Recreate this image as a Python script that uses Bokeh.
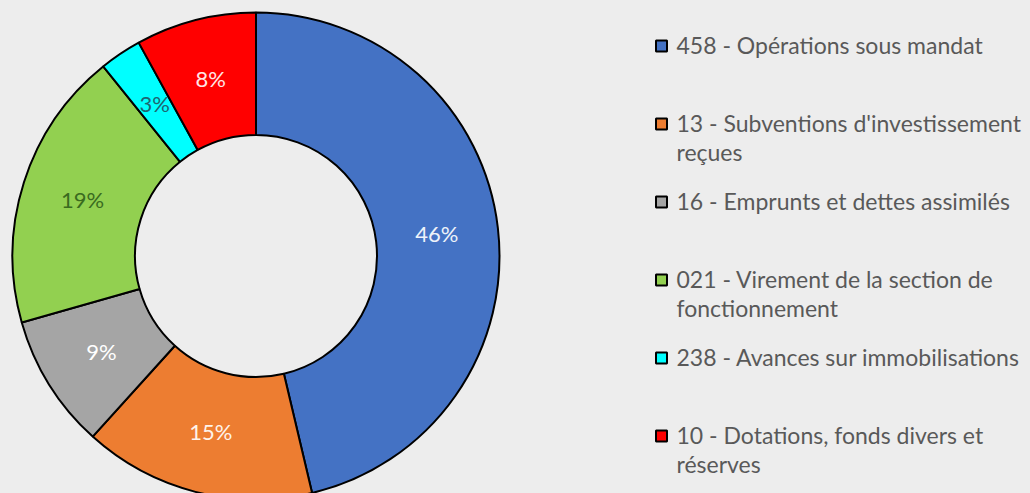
import math
from bokeh.plotting import figure
from bokeh.models import Range1d, ColumnDataSource, GlobalInlineStyleSheet
from bokeh.core.properties import value
from bokeh.embed import file_html
from bokeh.resources import INLINE

# ---- data ----
categories = [
    "458 - Opérations sous mandat",
    "13 - Subventions d'investissement\nreçues",
    "16 - Emprunts et dettes assimilés",
    "021 - Virement de la section de\nfonctionnement",
    "238 - Avances sur immobilisations",
    "10 - Dotations, fonds divers et\nréserves",
]
shares = [46.3, 15.4, 8.9, 18.6, 2.8, 8.0]
pct_labels = ["46%", "15%", "9%", "19%", "3%", "8%"]
colors = ["#4472C4", "#ED7D31", "#A5A5A5", "#92D050", "#00FFFF", "#FF0000"]
label_colors = ["#EEF2FA", "#FFF3EA", "#FFFFFF", "#3A6B1F", "#1E6470", "#FFE6E6"]

BG = "#EDEDED"
FONT = "Lato"

W, H = 1030, 493

def py(y_page):
    return H - y_page

p = figure(width=W, height=H, x_range=Range1d(0, W), y_range=Range1d(0, H),
           output_backend="svg", toolbar_location=None, min_border=0,
           background_fill_color=BG, border_fill_color=BG, outline_line_color=None)
p.axis.visible = False
p.grid.visible = False
p.stylesheets = [GlobalInlineStyleSheet(css="body{background:%s;}" % BG)]

# ---- donut ----
cx, cy = 255.5, py(255.5)
R_out, R_in = 243.5, 121.0
total = sum(shares)
starts, ends, mids = [], [], []
cum = 0.0
for s in shares:
    a0 = math.pi / 2 - 2 * math.pi * cum / total
    cum += s
    a1 = math.pi / 2 - 2 * math.pi * cum / total
    starts.append(a0)
    ends.append(a1)
    mids.append((a0 + a1) / 2)

src = ColumnDataSource(dict(start=starts, end=ends, color=colors))
p.annular_wedge(x=cx, y=cy, inner_radius=R_in, outer_radius=R_out, start_angle="start", end_angle="end",
                direction="clock", fill_color="color", line_color="black", line_width=2.0, source=src)

r_lab = 182
lsrc = ColumnDataSource(dict(
    x=[cx + r_lab * math.cos(m) for m in mids],
    y=[cy + r_lab * math.sin(m) + 1 for m in mids],
    t=pct_labels, c=label_colors))
p.text(x="x", y="y", text="t", text_color="c", source=lsrc, text_font=value(FONT),
       text_font_size="22px", text_align="center", text_baseline="middle")

# ---- legend ----
leg_x_marker = 661
leg_x_text = 676
leg_y0 = 45.5
leg_step = 78
line_h = 29
mk_x, mk_y, tx, ty, tt = [], [], [], [], []
for i, lab in enumerate(categories):
    yc = leg_y0 + i * leg_step
    mk_x.append(leg_x_marker)
    mk_y.append(py(yc))
    for j, line in enumerate(lab.split("\n")):
        tx.append(leg_x_text)
        ty.append(py(yc - 1.5 + j * line_h))
        tt.append(line)

p.rect(x=mk_x, y=mk_y, width=11, height=11, fill_color=colors, line_color="black", line_width=2.0)
p.text(x=tx, y=ty, text=tt, text_color="#595959", text_font=value(FONT), text_font_size="23px",
       text_align="left", text_baseline="middle")

open("out.html", "w").write(file_html(p, INLINE))
